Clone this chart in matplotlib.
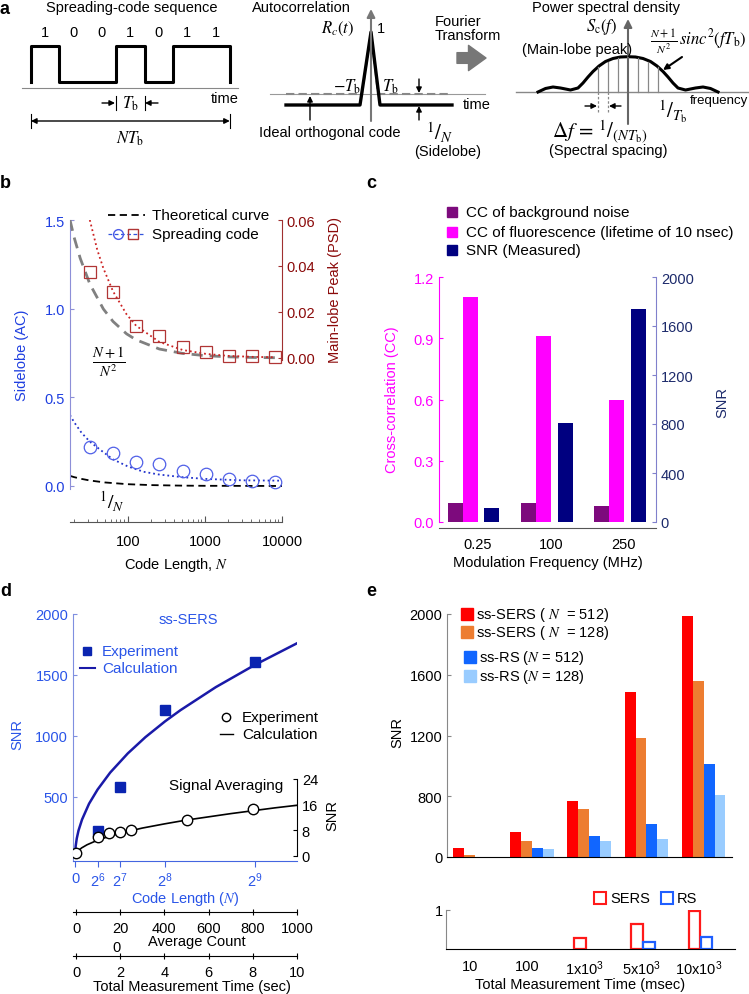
import numpy as np
import matplotlib.pyplot as plt
from matplotlib.ticker import FormatStrFormatter, NullFormatter

plt.rcParams['font.family'] = ['Liberation Sans', 'DejaVu Sans']
plt.rcParams['mathtext.fontset'] = 'stix'
plt.rcParams['font.size'] = 10.5

W, H = 749, 995

# ---- a: schematic ----
code_bits = [1, 0, 0, 1, 0, 1, 1]
psd_u = [-1.8, -1.65, -1.5, -1.35, -1.15, -1.0, -0.9, -0.8, -0.7, -0.58, -0.45, -0.3, -0.15, 0,
         0.15, 0.3, 0.45, 0.58, 0.7, 0.8, 0.9, 1.0, 1.15, 1.35, 1.5, 1.65, 1.8]
psd_h = [0, 3.5, 5, 4, 2, 4, 9, 15, 20.5, 26, 30.5, 33.5, 35, 35.3,
         35, 33.5, 30.5, 26, 20.5, 15, 9, 4, 2, 4, 5, 3.5, 0]
psd_line_k = [-3, -2, -1, 1, 2, 3]
psd_line_h = [25, 30, 34, 34, 30, 25]

# ---- b: sidelobe / main-lobe peak vs code length ----
n_code = [32, 64, 128, 256, 512, 1024, 2048, 4096, 8192]
sidelobe_meas = [0.22, 0.185, 0.135, 0.124, 0.084, 0.067, 0.04, 0.03, 0.025]
mainlobe_meas = [0.0374, 0.0287, 0.0139, 0.0096, 0.0047, 0.0025, 0.001, 0.0007, 0.0003]
n_side_fit = [17.7, 20, 25, 32, 45, 64, 100, 160, 250, 500, 1000, 3000, 10000]
sidelobe_fit = [0.40, 0.36, 0.30, 0.25, 0.20, 0.15, 0.11, 0.08, 0.065, 0.05, 0.04, 0.032, 0.03]
n_side_theory = [17.7, 20, 25, 32, 50, 100, 200, 500, 1000, 10000]
sidelobe_theory = [0.057, 0.05, 0.04, 0.031, 0.02, 0.01, 0.005, 0.002, 0.001, 0.0001]
n_main_theory = [17.7, 20, 24, 32, 48, 64, 96, 128, 256, 512, 1024, 2048, 4096, 8192]
mainlobe_theory = [0.060, 0.0525, 0.0434, 0.0322, 0.0213, 0.0159, 0.0105, 0.0079, 0.0039,
                   0.0020, 0.0010, 0.0005, 0.00024, 0.00012]
n_main_fit = [32, 40, 48, 64, 96, 128, 256, 512, 1024, 2048, 4096, 8192]
mainlobe_fit = [0.060, 0.047, 0.039, 0.029, 0.019, 0.014, 0.007, 0.0035, 0.0018, 0.0009, 0.0005, 0.0003]

# ---- c: modulation frequency ----
mod_freq = ['0.25', '100', '250']
cc_background = [0.095, 0.095, 0.078]
cc_fluorescence = [1.10, 0.91, 0.60]
snr_measured = [118, 812, 1742]

# ---- d: SNR vs code length / averaging ----
code_len_exp = [64, 128, 256, 512]
snr_sers_exp = [225, 578, 1210, 1610]
code_len_calc = [0, 2, 5, 10, 20, 40, 64, 100, 150, 200, 256, 300, 400, 512, 631]
snr_sers_calc = [30, 100, 160, 225, 315, 445, 560, 700, 857, 990, 1120, 1212, 1400, 1584, 1760]
avg_count_exp = [0, 100, 150, 200, 250, 500, 800]
snr_avg_exp = [1, 6, 7.2, 7.5, 8.1, 11.2, 14.7]
avg_count_calc = [0, 10, 25, 50, 100, 150, 200, 300, 400, 500, 600, 700, 800, 900, 1000]
snr_avg_calc = [0, 1.6, 2.5, 3.5, 5, 6.1, 7.1, 8.7, 10, 11.2, 12.2, 13.2, 14.1, 15, 15.8]

# ---- e: SNR vs total measurement time ----
meas_time = ['10', '100', r'1x10$^\mathregular{3}$', r'5x10$^\mathregular{3}$', r'10x10$^\mathregular{3}$']
snr_sers_512 = [461, 566, 766, 1489, 1989]
snr_sers_128 = [415, 505, 713, 1185, 1557]
snr_rs_512 = [np.nan, 461, 540, 614, 1014]
snr_rs_128 = [np.nan, 455, 507, 520, 805]
ratio_sers = [np.nan, np.nan, 0.28, 0.64, 0.97]
ratio_rs = [np.nan, np.nan, np.nan, 0.18, 0.31]


def px_box(x0, y0, x1, y1):
    return [x0 / W, 1 - y1 / H, (x1 - x0) / W, (y1 - y0) / H]


def label_at(ax, box, xc, yc, side='left'):
    # place a rotated y label so its centre sits at pixel (xc, yc)
    x0, y0, x1, y1 = box
    shift = 7 if side == 'left' else -7
    ax.yaxis.set_label_coords((xc + shift - x0) / (x1 - x0), (y1 - yc) / (y1 - y0))


def arrow(ax, x0, y0, x1, y1, color='k', lw=1.0, style='-|>', ms=8):
    ax.annotate('', xy=(x1, y1), xytext=(x0, y0),
                arrowprops=dict(arrowstyle=style, color=color, lw=lw, mutation_scale=ms,
                                shrinkA=0, shrinkB=0))


def only_spines(ax, keep):
    for s in ['top', 'bottom', 'left', 'right']:
        ax.spines[s].set_visible(s in keep)


def draw_a(ov):
    ov.text(5, 9, 'a', fontsize=13, fontweight='bold', ha='center', va='center')
    ov.text(132, 8, 'Spreading-code sequence', ha='center', va='center')
    x0, bw, hi, lo = 31, 28.4, 47, 83
    edges = x0 + bw * np.arange(len(code_bits) + 1)
    xs, ys = [edges[0]], [lo]
    for i, bit in enumerate(code_bits):
        level = hi if bit else lo
        xs += [edges[i], edges[i + 1]]
        ys += [level, level]
        ov.text((edges[i] + edges[i + 1]) / 2, 33, str(bit), ha='center', va='center')
    xs.append(edges[-1])
    ys.append(lo)
    ov.plot(xs, ys, color='k', lw=2.2)
    ov.plot([22, 238], [89, 89], color='#888888', lw=0.8)
    ov.text(225, 99, 'time', ha='center', va='center')
    for xv in (edges[3], edges[4]):
        ov.plot([xv, xv], [97, 111], color='k', lw=0.8)
    arrow(ov, 102, 104, 115, 104)
    arrow(ov, 158, 104, 145, 104)
    ov.text(130, 104, r'$T_\mathrm{b}$', ha='center', va='center', fontsize=12)
    for xv in (edges[0], edges[-1]):
        ov.plot([xv, xv], [115, 129], color='k', lw=0.8)
    arrow(ov, edges[0], 122, edges[-1], 122, style='<|-|>')
    ov.text(130, 139, r'$NT_\mathrm{b}$', ha='center', va='center', fontsize=12)

    # autocorrelation
    ov.text(252, 8, 'Autocorrelation', ha='left', va='center')
    arrow(ov, 371, 122, 371, 10, color='#777777', lw=1.5, ms=12)
    ov.plot([270, 485], [95, 95], color='#999999', lw=0.8)
    ov.plot([286, 362, 371, 378, 450], [95, 95, 33, 95, 95], color='#888888', lw=1.5,
            ls='--', dashes=(4, 2))
    ov.plot([286, 360, 371, 380, 452], [106, 106, 33, 106, 106], color='k', lw=2.4)
    ov.text(338, 29, r'$R_c(t)$', ha='center', va='center', fontsize=12)
    ov.text(381, 29, '1', ha='center', va='center')
    ov.text(347, 87, r'$-T_\mathrm{b}$', ha='center', va='center', fontsize=12)
    ov.text(390, 87, r'$T_\mathrm{b}$', ha='center', va='center', fontsize=12)
    ov.text(477, 105, 'time', ha='center', va='center')
    arrow(ov, 419, 80, 419, 94)
    arrow(ov, 419, 121, 419, 107)
    ov.text(440, 133, r'${}^1/_N$', ha='center', va='center', fontsize=15)
    ov.text(448, 152, '(Sidelobe)', ha='center', va='center')
    arrow(ov, 310, 121, 310, 97)
    ov.text(330, 133, 'Ideal orthogonal code', ha='center', va='center')
    ov.text(435, 22, 'Fourier', ha='left', va='center')
    ov.text(435, 36, 'Transform', ha='left', va='center')
    ov.annotate('', xy=(486, 59), xytext=(457, 59),
                arrowprops=dict(arrowstyle='simple,head_width=1.3,head_length=0.9,tail_width=0.55',
                                color='#777777', mutation_scale=14, shrinkA=0, shrinkB=0))

    # power spectral density
    ov.text(606, 8, 'Power spectral density', ha='center', va='center')
    ov.plot([516, 749], [93, 93], color='#888888', lw=1)
    arrow(ov, 628, 125, 628, 20, color='#666666', lw=1.5, ms=12)
    ov.plot(628 + 50 * np.array(psd_u), 93 - np.array(psd_h), color='k', lw=2.2)
    for k, hk in zip(psd_line_k, psd_line_h):
        ov.plot([628 + 10 * k] * 2, [93, 93 - hk], color='#888888', lw=0.9)
    for k in (-3, -2):
        ov.plot([628 + 10 * k] * 2, [93, 113], color='#888888', lw=0.9, ls=(0, (2, 1.5)))
    arrow(ov, 585, 107, 597, 107)
    arrow(ov, 621, 107, 609, 107)
    ov.text(602, 27, r'$S_\mathrm{c}(f)$', ha='center', va='center', fontsize=12)
    ov.text(577, 50, '(Main-lobe peak)', ha='center', va='center')
    ov.text(698, 42, r'$\frac{N+1}{N^2}\,sinc^2(fT_\mathrm{b})$', ha='center', va='center', fontsize=12)
    arrow(ov, 682, 58, 663, 71, lw=1.5)
    ov.text(673, 112, r'${}^1/_{T_\mathrm{b}}$', ha='center', va='center', fontsize=15)
    ov.text(748, 101, 'frequency', ha='right', va='center', fontsize=9.5)
    ov.text(600, 132, r'$\Delta f\,=\,{}^1/_{(NT_\mathrm{b})}$', ha='center', va='center', fontsize=15)
    ov.text(608, 151, '(Spectral spacing)', ha='center', va='center')


def draw_b(fig, ov):
    blue, dred = '#1f3fe0', '#8b0a0a'
    ov.text(5, 183, 'b', fontsize=13, fontweight='bold', ha='center', va='center')

    box = (70, 221, 282, 490)
    ax = fig.add_axes(px_box(*box))
    ax.patch.set_visible(False)
    ax.set_xscale('log')
    ax.set_xlim(17.7, 10000)
    ax.set_ylim(-0.017, 1.5)
    ax.plot(n_side_theory, sidelobe_theory, color='k', lw=1.3, ls='--', dashes=(4, 2.5))
    ax.plot(n_side_fit, sidelobe_fit, ':', color='#2233cc', lw=1.3)
    ax.plot(n_code, sidelobe_meas, 'o', mfc='none', mec='#5060e8', ms=9, mew=0.9)
    only_spines(ax, ['left'])
    ax.spines['left'].set_color('#8d8fd8')
    ax.tick_params(axis='x', which='both', bottom=False, labelbottom=False)
    ax.set_yticks([0, 0.5, 1.0, 1.5])
    ax.yaxis.set_major_formatter(FormatStrFormatter('%.1f'))
    ax.tick_params(axis='y', color='#8d8fd8', labelcolor=blue, length=3, direction='in')
    ax.set_ylabel('Sidelobe (AC)', color=blue)
    label_at(ax, box, 22, 355)

    rbox = (70, 221, 282, 361)
    axr = fig.add_axes(px_box(*rbox))
    axr.patch.set_visible(False)
    axr.set_xscale('log')
    axr.set_xlim(17.7, 10000)
    axr.set_ylim(-0.00087, 0.06)
    axr.plot(n_main_theory, mainlobe_theory, color='#808080', lw=2, ls='--', dashes=(4, 2.5))
    axr.plot(n_main_fit, mainlobe_fit, ':', color='#cc2222', lw=1.3)
    axr.plot(n_code, mainlobe_meas, 's', mfc='none', mec='#b03535', ms=8, mew=0.9, clip_on=False)
    only_spines(axr, ['right'])
    axr.spines['right'].set_color('#a03030')
    axr.tick_params(axis='x', which='both', bottom=False, labelbottom=False)
    axr.yaxis.tick_right()
    axr.set_yticks([0, 0.02, 0.04, 0.06])
    axr.yaxis.set_major_formatter(FormatStrFormatter('%.2f'))
    axr.tick_params(axis='y', color='#a03030', labelcolor=dred, length=3, direction='in')
    axr.yaxis.set_label_position('right')
    axr.set_ylabel('Main-lobe Peak (PSD)', color=dred)
    label_at(axr, rbox, 335, 290, side='right')

    axx = fig.add_axes(px_box(70, 520, 282, 523))
    axx.patch.set_visible(False)
    axx.set_xscale('log')
    axx.set_xlim(17.7, 10000)
    only_spines(axx, ['bottom'])
    axx.spines['bottom'].set_color('#555555')
    axx.set_yticks([])
    axx.set_xticks([100, 1000, 10000], ['100', '1000', '10000'])
    axx.xaxis.set_minor_formatter(NullFormatter())
    axx.tick_params(axis='x', which='major', direction='in', length=4, pad=9, color='#555555')
    axx.tick_params(axis='x', which='minor', direction='in', length=2, color='#555555')
    axx.set_xlabel('Code Length, $N$', labelpad=5)

    ov.text(109, 362, r'$\frac{N+1}{N^2}$', ha='center', va='center', fontsize=15)
    ov.text(112, 502, r'${}^1/_N$', ha='center', va='center', fontsize=14)
    ov.plot([108, 145], [216, 216], color='k', lw=1.3, ls='--', dashes=(4, 2.5))
    ov.text(152, 216, 'Theoretical curve', va='center', fontsize=11)
    ov.plot([108, 145], [235, 235], color='#3355dd', lw=0.9, ls='--', dashes=(3, 2))
    ov.plot(118, 235, 'o', mfc='none', mec='#4a5ae8', ms=7)
    ov.plot(133, 235, 's', mfc='none', mec='#b03535', ms=7)
    ov.text(152, 235, 'Spreading code', va='center', fontsize=11)


def draw_c(fig, ov):
    ov.text(371, 183, 'c', fontsize=13, fontweight='bold', ha='center', va='center')
    x = np.arange(len(mod_freq))
    w = 0.205
    box = (439, 278, 656, 523)
    ax = fig.add_axes(px_box(*box))
    ax.patch.set_visible(False)
    ax.bar(x - w, cc_background, w, color='#7d0a7d')
    ax.bar(x, cc_fluorescence, w, color='#ff00ff')
    ax.set_xlim(-0.43, 2.54)
    ax.set_ylim(0, 1.2)
    ax.set_yticks([0, 0.3, 0.6, 0.9, 1.2])
    ax.yaxis.set_major_formatter(FormatStrFormatter('%.1f'))
    ax.tick_params(axis='y', color='#ff00ff', labelcolor='#ff00ff', direction='in', length=3)
    ax.set_xticks(x + 0.1, mod_freq)
    ax.tick_params(axis='x', length=0, pad=7)
    ax.set_xlabel('Modulation Frequency (MHz)', labelpad=3)
    ax.set_ylabel('Cross-correlation (CC)', color='#ff00ff')
    label_at(ax, box, 392, 400)
    only_spines(ax, ['left', 'bottom'])
    ax.spines['left'].set_color('#ff00ff')
    ax.spines['bottom'].set_position(('outward', 4))
    ax.spines['bottom'].set_color('#555555')

    ax2 = ax.twinx()
    ax2.bar(x + 0.295, snr_measured, w, color='#000080')
    ax2.set_ylim(0, 2000)
    ax2.set_yticks([0, 400, 800, 1200, 1600, 2000])
    ax2.tick_params(axis='y', color='#8080cc', labelcolor='#1c2a6b', direction='in', length=3)
    only_spines(ax2, ['right'])
    ax2.spines['right'].set_color('#8080cc')
    ax2.set_ylabel('SNR', color='#1c2a6b')
    label_at(ax2, box, 722, 402, side='right')

    for y, txt, col in [(213, 'CC of background noise', '#7d0a7d'),
                        (233, 'CC of fluorescence (lifetime of 10 nsec)', '#ff00ff'),
                        (251, 'SNR (Measured)', '#000080')]:
        ov.plot(452, y, 's', color=col, ms=7)
        ov.text(466, y, txt, va='center', fontsize=11)


def draw_d(fig, ov):
    blue = '#2a55e8'
    ov.text(6, 592, 'd', fontsize=13, fontweight='bold', ha='center', va='center')
    box = (73, 615, 297, 862)
    ax = fig.add_axes(px_box(*box))
    ax.patch.set_visible(False)
    ax.set_xlim(-5.7, 631)
    ax.set_ylim(-25, 2000)
    ax.plot(code_len_calc, snr_sers_calc, color='#1a1aa8', lw=1.8)
    ax.plot(code_len_exp, snr_sers_exp, 's', color='#0a24b0', ms=7)
    only_spines(ax, ['left', 'bottom'])
    ax.spines['left'].set_color('#7f8fe0')
    ax.spines['bottom'].set_color('#4466e0')
    ax.set_yticks([500, 1000, 1500, 2000])
    ax.tick_params(axis='y', color='#7f8fe0', labelcolor=blue, direction='in', length=3)
    ax.set_xticks([0, 64, 128, 256, 512],
                  ['0', r'$\mathregular{2^6}$', r'$\mathregular{2^7}$', r'$\mathregular{2^8}$',
                   r'$\mathregular{2^9}$'])
    ax.tick_params(axis='x', color='#4466e0', labelcolor=blue, length=4, pad=3)
    ax.set_xlabel('Code Length ($N$)', color=blue, labelpad=0)
    ax.set_ylabel('SNR', color=blue)
    label_at(ax, box, 17, 735)

    ax2 = fig.add_axes(px_box(*box))
    ax2.patch.set_visible(False)
    ax2.set_xlim(-13.6, 1000)
    ax2.set_ylim(-1.56, 75.4)
    ax2.plot(avg_count_calc, snr_avg_calc, color='k', lw=1.2)
    ax2.plot(avg_count_exp, snr_avg_exp, 'o', mfc='white', mec='k', ms=7.5, mew=1)
    only_spines(ax2, ['right'])
    ax2.spines['right'].set_bounds(0, 24)
    ax2.set_xticks([])
    ax2.yaxis.tick_right()
    ax2.set_yticks([0, 8, 16, 24])
    ax2.tick_params(axis='y', direction='in', length=3)
    ax2.yaxis.set_label_position('right')
    ax2.set_ylabel('SNR')
    label_at(ax2, box, 332, 816, side='right')

    axa = fig.add_axes(px_box(73, 910, 297, 913))
    axa.patch.set_visible(False)
    axa.set_xlim(-13.6, 1000)
    only_spines(axa, ['bottom'])
    axa.set_yticks([])
    axa.set_xticks([0, 200, 400, 600, 800, 1000], ['0', '20\n0', '400', '600', '800', '1000'])
    axa.tick_params(axis='x', direction='inout', length=5, pad=4)
    for lab in axa.get_xticklabels():
        lab.set_multialignment('left')
        lab.set_linespacing(1.45)
    ov.text(197, 942, 'Average Count', ha='center', va='center')

    axt = fig.add_axes(px_box(73, 954, 297, 957))
    axt.patch.set_visible(False)
    axt.set_xlim(-0.136, 10)
    only_spines(axt, ['bottom'])
    axt.set_yticks([])
    axt.set_xticks([0, 2, 4, 6, 8, 10])
    axt.tick_params(axis='x', direction='inout', length=5, pad=4)
    ov.text(192, 987, 'Total Measurement Time (sec)', ha='center', va='center')

    ov.text(188, 620, 'ss-SERS', color=blue, ha='center', va='center')
    ov.plot(87, 652, 's', color='#0a24b0', ms=6)
    ov.text(102, 652, 'Experiment', color=blue, va='center', fontsize=11)
    ov.plot([80, 95], [669, 669], color='#1a1aa8', lw=1.5)
    ov.text(102, 669, 'Calculation', color=blue, va='center', fontsize=11)
    ov.plot(226, 718, 'o', mfc='white', mec='k', ms=6)
    ov.text(242, 718, 'Experiment', va='center', fontsize=11)
    ov.plot([220, 233], [735, 735], color='k', lw=1)
    ov.text(242, 735, 'Calculation', va='center', fontsize=11)
    ov.text(226, 786, 'Signal Averaging', ha='center', va='center', fontsize=11)


def draw_e(fig, ov):
    ov.text(371, 592, 'e', fontsize=13, fontweight='bold', ha='center', va='center')
    xe = np.arange(len(meas_time))
    w = 0.19
    floor = 400
    box = (447, 615, 732, 858)
    ax = fig.add_axes(px_box(*box))
    ax.patch.set_visible(False)
    for i, (vals, col) in enumerate([(snr_sers_512, '#ff0000'), (snr_sers_128, '#ed7d31'),
                                     (snr_rs_512, '#1166ff'), (snr_rs_128, '#99ccff')]):
        v = np.array(vals, dtype=float)
        ok = ~np.isnan(v)
        ax.bar(xe[ok] + i * w, v[ok] - floor, w, bottom=floor, color=col)
    ax.set_xlim(-0.2, 4.78)
    ax.set_ylim(floor, 2000)
    ax.set_xticks([])
    ax.set_yticks([400, 800, 1200, 1600, 2000], ['0', '800', '1200', '1600', '2000'])
    ax.tick_params(axis='y', color='#888888', direction='in', length=3)
    only_spines(ax, ['left', 'bottom'])
    ax.spines['left'].set_color('#888888')
    ax.set_ylabel('SNR')
    label_at(ax, box, 397, 733)

    ax2 = fig.add_axes(px_box(446, 911, 735, 950))
    ax2.patch.set_visible(False)
    for off, vals, col in [(0.12, ratio_sers, '#ff1a1a'), (0.33, ratio_rs, '#1f5fff')]:
        v = np.array(vals, dtype=float)
        ok = ~np.isnan(v)
        ax2.bar(xe[ok] + off, v[ok], 0.2, facecolor='white', edgecolor=col, lw=1.6)
    ax2.set_xlim(-0.218, 4.83)
    ax2.set_ylim(0, 1)
    ax2.set_yticks([1])
    ax2.tick_params(axis='y', color='#888888', direction='in', length=3, pad=2)
    ax2.set_xticks(xe + 0.2, meas_time)
    ax2.tick_params(axis='x', length=0, pad=7)
    only_spines(ax2, ['left', 'bottom'])
    ax2.spines['left'].set_color('#888888')
    ov.text(580, 985, 'Total Measurement Time (msec)', ha='center', va='center')

    ov.plot(600, 899, 's', mfc='none', mec='#ff1a1a', ms=8, mew=1.5)
    ov.text(610, 899, 'SERS', va='center')
    ov.plot(667, 899, 's', mfc='none', mec='#1f5fff', ms=8, mew=1.5)
    ov.text(677, 899, 'RS', va='center')

    for y, xm, col, txt in [(615, 467, '#ff0000', 'ss-SERS ( $N$  = 512)'),
                            (633, 467, '#ed7d31', 'ss-SERS ( $N$  = 128)'),
                            (658, 470, '#1166ff', 'ss-RS ($N$ = 512)'),
                            (677, 470, '#99ccff', 'ss-RS ($N$ = 128)')]:
        ov.plot(xm, y, 's', color=col, ms=8)
        ov.text(xm + 9, y, txt, va='center')


def main():
    fig = plt.figure(figsize=(W / 100, H / 100), dpi=100)
    ov = fig.add_axes([0, 0, 1, 1], facecolor='none', zorder=10)
    ov.set_xlim(0, W)
    ov.set_ylim(H, 0)
    ov.axis('off')
    draw_a(ov)
    draw_b(fig, ov)
    draw_c(fig, ov)
    draw_d(fig, ov)
    draw_e(fig, ov)
    fig.savefig('out.png', dpi=100)


if __name__ == '__main__':
    main()
